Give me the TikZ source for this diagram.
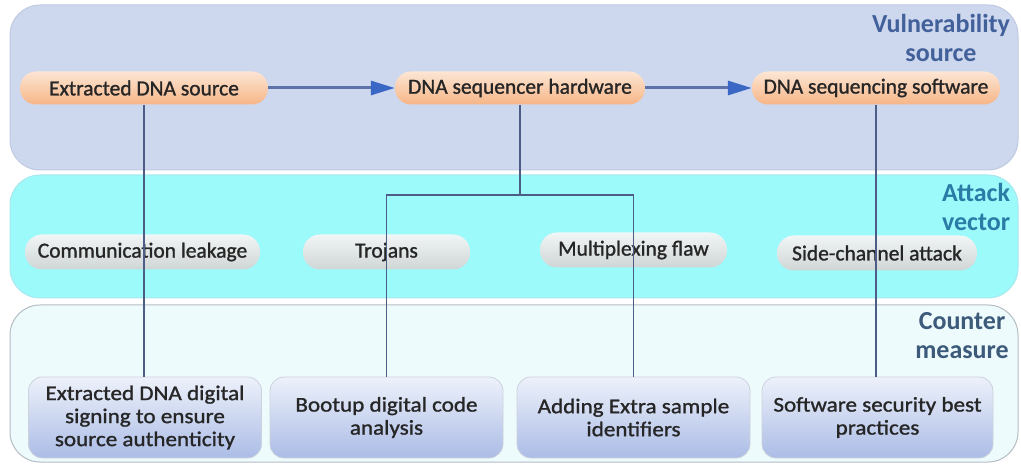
\documentclass[tikz,border=0pt]{standalone}
\usepackage{fontspec}
\setmainfont{Carlito}
\newfontfamily\boxfont[FakeBold=1.2]{Carlito}
\newfontfamily\widefont[FakeStretch=1.1,FakeBold=1.2]{Carlito}
\usetikzlibrary{arrows.meta}

\definecolor{bandA}{HTML}{CDD8EE}
\definecolor{bandAedge}{HTML}{BFCAE0}
\definecolor{bandB}{HTML}{9CFAFA}
\definecolor{bandBedge}{HTML}{A8E8EE}
\definecolor{bandC}{HTML}{EEFBFC}
\definecolor{bandCedge}{HTML}{B4BCC4}
\definecolor{peachTop}{HTML}{FCE6D4}
\definecolor{peachBot}{HTML}{F6B587}
\definecolor{greyTop}{HTML}{F8F6F6}
\definecolor{greyBot}{HTML}{D4D3D3}
\definecolor{cmTop}{HTML}{EDF1FA}
\definecolor{cmBot}{HTML}{ABBCE6}
\definecolor{cmEdge}{HTML}{CCD2DC}
\definecolor{wire}{HTML}{4E5C88}
\definecolor{flow}{HTML}{5E72AA}
\definecolor{tipblue}{HTML}{3A66C4}
\definecolor{lblA}{HTML}{42609A}
\definecolor{lblB}{HTML}{2A7CA6}
\definecolor{lblC}{HTML}{3C5A7A}
\definecolor{ink}{HTML}{262626}

\tikzset{
  band/.style={rounded corners=30pt, line width=1pt},
  srcbox/.style={rounded corners=16pt, minimum height=33pt, inner sep=0pt,
    top color=peachTop, bottom color=peachBot, draw=none,
    font=\boxfont\fontsize{21.5}{26}\selectfont, text=ink},
  vecbox/.style={rounded corners=17pt, minimum height=35pt, inner sep=0pt,
    top color=greyTop, bottom color=greyBot, draw=none, fill opacity=0.93,
    text opacity=1, font=\boxfont\fontsize{21.5}{26}\selectfont, text=ink},
  cmbox/.style={rounded corners=14pt, minimum height=81pt, minimum width=233pt,
    inner sep=0pt, top color=cmTop, bottom color=cmBot, draw=cmEdge,
    line width=0.8pt, align=center,
    font=\widefont\fontsize{21}{23}\selectfont, text=ink},
  layerlabel/.style={align=center, font=\bfseries\fontsize{26}{29}\selectfont},
  wireline/.style={draw=wire, line width=1.3pt},
  flowline/.style={draw=flow, line width=3pt,
    -{Triangle[length=24pt,width=14pt,color=tipblue]}},
}

\begin{document}
\begin{tikzpicture}[x=1pt,y=-1pt]
\useasboundingbox (0,0) rectangle (1021,465);
\fill[white] (0,0) rectangle (1021,465);

% three layer bands
\draw[band, fill=bandA, draw=bandAedge] (10,5) rectangle (1018,170);
\draw[band, fill=bandB, draw=bandBedge] (10,175) rectangle (1018,298);
\draw[band, fill=bandC, draw=bandCedge] (10,305) rectangle (1018,462);

% layer titles
\node[layerlabel, text=lblA] (tA) at (941,38) {Vulnerability\\source};
\node[layerlabel, text=lblB] (tB) at (976,207) {Attack\\vector};
\node[layerlabel, text=lblC] (tC) at (962,336) {Counter\\measure};

% vulnerability sources
\node[srcbox, minimum width=248pt] (src) at (144,88) {Extracted DNA source};
\node[srcbox, minimum width=250pt] (hw)  at (520,88) {DNA sequencer hardware};
\node[srcbox, minimum width=248pt] (sw)  at (876,88) {DNA sequencing software};

% counter measures
\node[cmbox] (sign)  at (145,417.5) {Extracted DNA digital\\signing to ensure\\source authenticity};
\node[cmbox] (boot)  at (386.5,417.5) {Bootup digital code\\analysis};
\node[cmbox] (extra) at (633.5,417.5) {Adding Extra sample\\identifiers};
\node[cmbox, minimum width=231pt] (best) at (877.5,417.5) {Software security best\\practices};

% attack vectors
\node[vecbox, minimum width=235pt] (leak) at (142.5,252) {Communication leakage};
\node[vecbox, minimum width=167pt] (troj) at (386.5,252) {Trojans};
\node[vecbox, minimum width=187pt] (mux)  at (633.5,250) {Multiplexing flaw};
\node[vecbox, minimum width=200pt] (side) at (877,253) {Side-channel attack};

% data flow between sources
\draw[flowline] (src.east) -- (hw.west);
\draw[flowline] (hw.east) -- (sw.west);

% links from sources to counter measures
\coordinate (bus) at (520,195);
\draw[wireline] (src.south) -- (src.south |- sign.north);
\draw[wireline] (hw.south) -- (bus);
\draw[wireline] (boot.north) |- (bus) -| (extra.north);
\draw[wireline] (sw.south) -- (sw.south |- best.north);
\end{tikzpicture}
\end{document}
